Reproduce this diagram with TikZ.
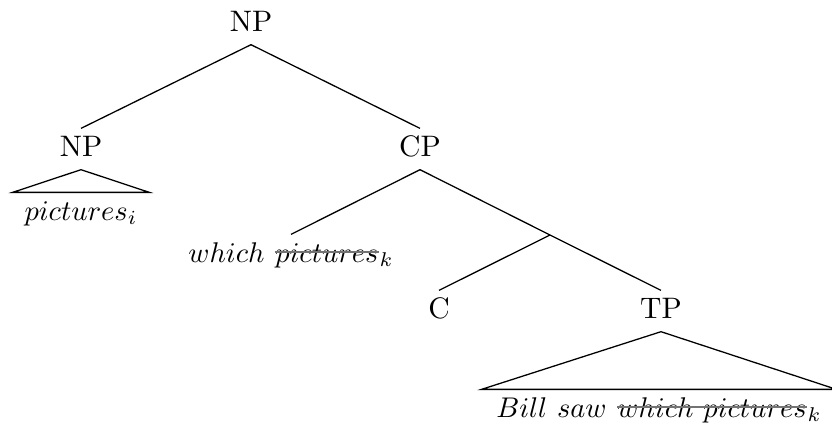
\documentclass[tikz,border=0pt]{standalone}
\usetikzlibrary{calc}
% strike a piece of math through with a thin grey line
\newcommand{\struck}[1]{\tikz[baseline=(s.base),x=1pt,y=1pt]{%
  \node[inner sep=0pt,outer sep=0pt,anchor=base,text height=7pt,text depth=0pt] (s) {$#1$};
  \draw[black!55,line width=0.6pt] ([yshift=3.5pt]s.base west) -- ([yshift=3.5pt]s.base east);}}
\begin{document}
\begin{tikzpicture}[x=0.351pt,y=-0.351pt,
  lbl/.style={anchor=base,inner sep=0pt,text height=7pt,text depth=0pt,
              font=\fontsize{10.4pt}{12pt}\selectfont},
  edge/.style={line width=0.45pt},
  up/.style={yshift=2.5pt},
  down/.style={yshift=-4.6pt}]
\useasboundingbox (0,0) rectangle (832,428);

% labels
\node[lbl] (top)  at (251,31)  {NP};
\node[lbl] (np)   at (81,156)  {NP};
\node[lbl] (cp)   at (420,156) {CP};
\node[lbl] (pic)  at (81,220)  {$pictures_i$};
\node[lbl] (wh)   at (291,262) {$which\ \mbox{\struck{pictures}}_k$};
\coordinate (cbar) at (550,235);
\node[lbl] (c)    at (439,318) {C};
\node[lbl] (tp)   at (661,318) {TP};
\node[lbl] (bill) at (659,417) {$Bill\ saw\ \mbox{\struck{which\ pictures}}_k$};

% branches
\draw[edge] ([down]top.south) -- ([up]np.north);
\draw[edge] ([down]top.south) -- ([up]cp.north);
\draw[edge] ([down]cp.south) -- ([up]wh.north);
\draw[edge] ([down]cp.south) -- (cbar);
\draw[edge] (cbar) -- ([up]c.north);
\draw[edge] (cbar) -- ([up]tp.north);

% roof triangles
\draw[edge] ([down]np.south) -- ([xshift=-4pt,yshift=2.5pt]pic.north west)
  -- ([xshift=4pt,yshift=2.5pt]pic.north east) -- cycle;
\draw[edge] ([down]tp.south) -- ([xshift=-5pt,yshift=2.5pt]bill.north west)
  -- ([xshift=5pt,yshift=2.5pt]bill.north east) -- cycle;
\end{tikzpicture}
\end{document}
